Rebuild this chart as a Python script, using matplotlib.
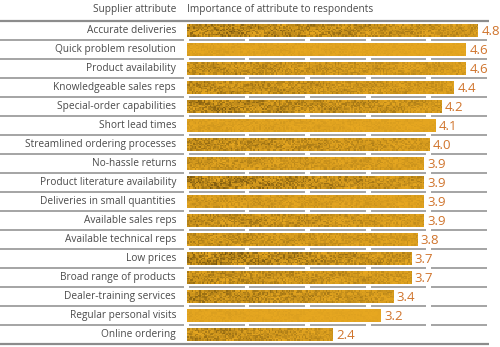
import numpy as np
import matplotlib
matplotlib.use("Agg")
import matplotlib.pyplot as plt

attributes = ["Accurate deliveries", "Quick problem resolution", "Product availability",
              "Knowledgeable sales reps", "Special-order capabilities", "Short lead times",
              "Streamlined ordering processes", "No-hassle returns", "Product literature availability",
              "Deliveries in small quantities", "Available sales reps", "Available technical reps",
              "Low prices", "Broad range of products", "Dealer-training services",
              "Regular personal visits", "Online ordering"]
scores = [4.8, 4.6, 4.6, 4.4, 4.2, 4.1, 4.0, 3.9, 3.9, 3.9, 3.9, 3.8, 3.7, 3.7, 3.4, 3.2, 2.4]
header_left = "Supplier attribute"
header_right = "Importance of attribute to respondents"

# texture darkness per bar (style only)
shade = [0.8, 0.15, 0.55, 0.6, 0.75, 0.2, 0.65, 0.45, 0.85, 0.35, 0.6, 0.5, 0.85, 0.6, 0.7, 0.12, 0.65]

W, H = 500, 347
fig = plt.figure(figsize=(W / 100, H / 100), dpi=100)
ax = fig.add_axes([0, 0, 1, 1])
x0px, unit = 187.0, 60.6
ax.set_xlim(-x0px / unit, (W - x0px) / unit)
ax.set_ylim((H - 30.5) / 19.0, -30.5 / 19.0)
ax.axis("off")

font = "Open Sans"
txt_col = "#4a4a4a"
val_col = "#d0742c"
line_col = "#8c8c8c"

n = len(attributes)
ypos = np.arange(n)
bars = ax.barh(ypos, scores, height=0.68, color="#e6a823", zorder=2)

# deterministic speckle texture
def texture(h, w, k, dark):
    yy, xx = np.mgrid[0:h, 0:w].astype(float)
    qx, qy = np.floor(xx / 1.5), np.floor(yy / 1.5)
    r = np.abs(np.modf(np.sin(qx * 12.9898 + qy * 78.233 + k * 37.719) * 43758.5453)[0])
    blob = 0.5 + 0.5 * np.sin(xx / 9.0 + k) * np.cos(yy / 3.0 + k * 0.7)
    grad = np.clip(1.2 - xx / w * 1.1, 0, 1)
    d = dark * (0.7 * r ** 1.5 + 0.25 * blob) * (0.5 + 0.6 * grad)
    base = np.array([0.91, 0.66, 0.13])
    darkc = np.array([0.38, 0.27, 0.04])
    d = np.clip(d, 0, 1)[..., None]
    return base * (1 - d) + darkc * d

for i, (b, s) in enumerate(zip(bars, scores)):
    img = texture(14, int(s * unit) + 2, i, shade[i])
    im = ax.imshow(img, extent=(0, s, i + 0.34, i - 0.34), aspect="auto",
                   interpolation="nearest", zorder=3)
    im.set_clip_path(b)
    ax.text(s + 0.06, i + 0.05, f"{s:.1f}", color=val_col, fontsize=9.5,
            family=font, va="center", ha="left", zorder=4)
    ax.text(-0.18, i, attributes[i], color=txt_col, fontsize=7.3, family=font,
            va="center", ha="right")

xl = -x0px / unit
# separators
for k in range(n + 1):
    y = k - 0.5
    if k == 0 or k == n:
        ax.plot([xl, 4.98], [y, y], color=line_col, lw=1.6, solid_capstyle="butt", zorder=1)
    else:
        ax.plot([xl, -0.05], [y, y], color=line_col, lw=1.1, solid_capstyle="butt", zorder=1)
        for seg in range(5):
            ax.plot([seg + 0.03, seg + 0.95], [y, y], color=line_col, lw=1.1,
                    solid_capstyle="butt", zorder=1)

ax.text(-0.18, -1.13, header_left, color=txt_col, fontsize=7.3, family=font,
        va="center", ha="right")
ax.text(0.0, -1.13, header_right, color=txt_col, fontsize=7.3, family=font,
        va="center", ha="left")

fig.savefig("out.png", dpi=100)
